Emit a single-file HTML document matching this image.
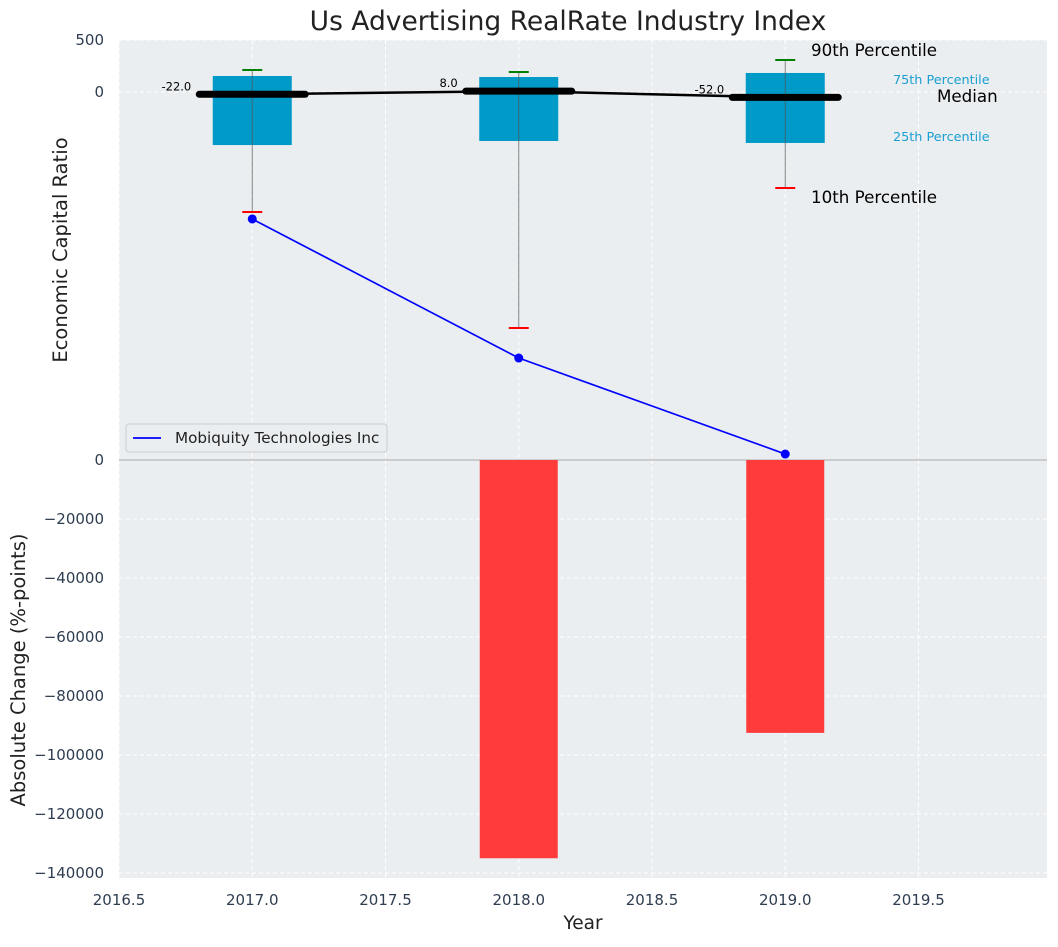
<!DOCTYPE html>
<html><head><meta charset="utf-8"><style>
body{margin:0;background:#fff;}
svg text{font-family:"DejaVu Sans","Liberation Sans",sans-serif;}
</style></head><body>
<svg id="c" width="1058" height="942" xmlns="http://www.w3.org/2000/svg"></svg>
<script>
const years=[2017,2018,2019];
const p10=[-1154,-2269,-923];
const p25=[-510,-471,-490];
const p50=[-22,8,-52];
const p75=[154,144,183];
const p90=[212,192,308];
const lineVals=[-1221,-2558,-3481];
const changes=[0,-135000,-92500];
const xTicks=[2016.5,2017,2017.5,2018,2018.5,2019,2019.5];
const topTicks=[500,0];
const botTicks=[0,-20000,-40000,-60000,-80000,-100000,-120000,-140000];

const NS="http://www.w3.org/2000/svg";
const svg=document.getElementById('c');
const L=119,R=1047,T=40,M=460,B=878;
const x=v=>L+(v-2016.5)*266.5;
const yT=v=>92-v*0.104;
const yB=v=>M-v*413/140000;
function el(tag,attrs,parent,text){const e=document.createElementNS(NS,tag);for(const k in attrs)e.setAttribute(k,attrs[k]);if(text!==undefined)e.textContent=text;(parent||svg).appendChild(e);return e;}

let e;
e=el('rect',{x:L,y:T,width:R-L,height:M-T,fill:'#eaeef0'});


e=el('rect',{x:L,y:M,width:R-L,height:B-M,fill:'#eaeef0'});



xTicks.forEach(t=>{
  e=el('line',{x1:x(t),x2:x(t),y1:T,y2:B,stroke:'#fff','stroke-dasharray':'4,3','stroke-width':1});
  
  
  e=el('text',{x:x(t),y:905,'text-anchor':'middle','font-size':15,fill:'#2e3d50'},null,t.toFixed(1));
  
  
});
topTicks.forEach(t=>{
  e=el('line',{x1:L,x2:R,y1:yT(t),y2:yT(t),stroke:'#fff','stroke-dasharray':'4,3'});
  
  
  e=el('text',{x:104,y:yT(t)+5,'text-anchor':'end','font-size':15,fill:'#2e3d50'},null,String(t));
  
  
});
botTicks.forEach(t=>{
  e=el('line',{x1:L,x2:R,y1:yB(t),y2:yB(t),stroke:'#fff','stroke-dasharray':'4,3'});
  
  
  e=el('text',{x:104,y:yB(t)+5,'text-anchor':'end','font-size':15,fill:'#2e3d50'},null,t===0?'0':'\u2212'+Math.abs(t));
  
  
});
e=el('line',{x1:L,x2:R,y1:M,y2:M,stroke:'#aaa','stroke-width':1});



changes.forEach((v,i)=>{
  if(v===0)return;
  const y0=yB(0),y1=yB(v);
  e=el('rect',{x:x(years[i])-39,y:Math.min(y0,y1),width:78,height:Math.abs(y1-y0),fill:'#ff3b3b'});
  
  
});

years.forEach((yr,i)=>{
  const cx=x(yr);
  e=el('rect',{x:cx-39.5,y:yT(p75[i]),width:79,height:yT(p25[i])-yT(p75[i]),fill:'#009ac9'});
  
  
  e=el('line',{x1:cx,x2:cx,y1:yT(p90[i]),y2:yT(p10[i]),stroke:'#555','stroke-width':1,opacity:0.7});
  
  
  e=el('line',{x1:cx-10,x2:cx+10,y1:yT(p90[i]),y2:yT(p90[i]),stroke:'green','stroke-width':2});
  
  
  e=el('line',{x1:cx-10,x2:cx+10,y1:yT(p10[i]),y2:yT(p10[i]),stroke:'red','stroke-width':2});
  
  
});
e=el('polyline',{points:years.map((yr,i)=>x(yr)+','+yT(p50[i])).join(' '),fill:'none',stroke:'#000','stroke-width':2.5});


years.forEach((yr,i)=>{
  const cx=x(yr);
  e=el('line',{x1:cx-53,x2:cx+53,y1:yT(p50[i]),y2:yT(p50[i]),stroke:'#000','stroke-width':7,'stroke-linecap':'round'});
  
  
  e=el('text',{x:cx-61,y:yT(p50[i])-4,'text-anchor':'end','font-size':11.5,fill:'#000'},null,p50[i].toFixed(1));
  
  
});

e=el('polyline',{points:years.map((yr,i)=>x(yr)+','+yT(lineVals[i])).join(' '),fill:'none',stroke:'#0000ff','stroke-width':1.7});


years.forEach((yr,i)=>{
  e=el('circle',{cx:x(yr),cy:yT(lineVals[i]),r:4.5,fill:'#0000ff'});
  
  
});

const ann=[['90th Percentile',811,56,16.7,'#000'],['75th Percentile',893,84,12.8,'#1a9fd0'],['Median',937,102,16.7,'#000'],['25th Percentile',893,141,12.8,'#1a9fd0'],['10th Percentile',811,203,16.7,'#000']];
ann.forEach(a=>{
  e=el('text',{x:a[1],y:a[2],'font-size':a[3],fill:a[4]},null,a[0]);
  
  
});

const lg=el('g',{});


el('rect',{x:126,y:424,width:261,height:28,rx:3,fill:'#eaeef0',stroke:'#ccc'},lg);
el('line',{x1:133,x2:161,y1:438,y2:438,stroke:'#0000ff','stroke-width':1.7},lg);
e=el('text',{x:175,y:443,'font-size':15.2,fill:'#222'},lg,'Mobiquity Technologies Inc');



e=el('text',{x:568,y:30,'text-anchor':'middle','font-size':26.5,fill:'#222'},null,'Us Advertising RealRate Industry Index');


e=el('text',{x:583,y:929,'text-anchor':'middle','font-size':18.5,fill:'#222'},null,'Year');


e=el('text',{x:0,y:0,'text-anchor':'middle','font-size':19.5,fill:'#222',transform:'translate(67,250) rotate(-90)'},null,'Economic Capital Ratio');


e=el('text',{x:0,y:0,'text-anchor':'middle','font-size':19.5,fill:'#222',transform:'translate(25,670) rotate(-90)'},null,'Absolute Change (%-points)');


</script>
</body></html>
